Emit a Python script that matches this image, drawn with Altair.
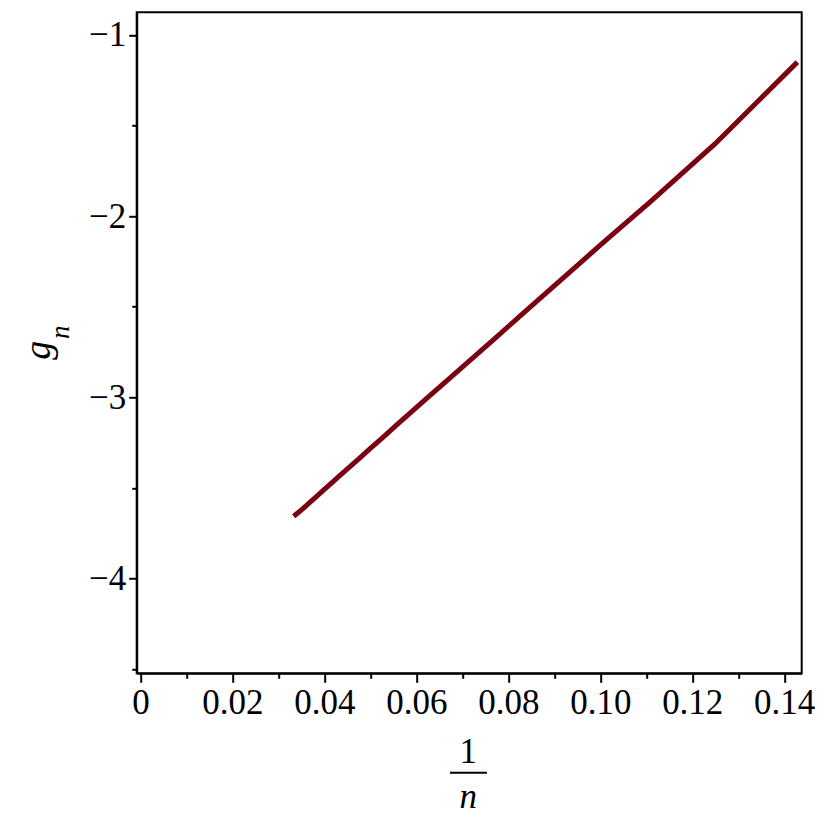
import altair as alt
import pandas as pd

# data: x = 1/n, y = g_n  (n = 7 .. 30)
n_values = list(range(7, 31))
g_values = [-1.15, -1.60, -1.915, -2.16, -2.364, -2.534, -2.678, -2.801,
            -2.907, -3.00, -3.083, -3.156, -3.223, -3.282, -3.336, -3.385,
            -3.429, -3.470, -3.508, -3.543, -3.575, -3.605, -3.633, -3.656]
x_ticks = [0, 0.01, 0.02, 0.03, 0.04, 0.05, 0.06, 0.07, 0.08, 0.09, 0.10,
           0.11, 0.12, 0.13, 0.14]
y_ticks = [-4.5, -4, -3.5, -3, -2.5, -2, -1.5, -1]
x_domain = [-0.0008, 0.1438]
y_domain = [-4.5226, -0.875]

x_title_num = "1"
x_title_den = "n"
y_title_main = "g"
y_title_sub = "n"

df = pd.DataFrame({"inv_n": [1.0 / n for n in n_values], "g": g_values})

W, H = 665, 661
FONT = "Liberation Serif"
FS = 35
LINE_COLOR = "#7a0012"

line = alt.Chart(df).mark_line(color=LINE_COLOR, strokeWidth=5, strokeCap="butt").encode(
    x=alt.X("inv_n:Q",
            scale=alt.Scale(domain=x_domain, nice=False, zero=False),
            axis=alt.Axis(
                values=x_ticks, title=None, grid=False,
                domainColor="black", domainWidth=2,
                tickColor="black", tickWidth=2,
                tickSize=alt.condition("round(datum.value*100) % 2 == 0", alt.value(9), alt.value(5)),
                labelExpr="round(datum.value*100) % 2 == 0 ? (datum.value == 0 ? '0' : format(datum.value, '.2f')) : ''",
                labelFont=FONT, labelFontSize=FS, labelColor="black",
                labelPadding=3, labelFlush=False, labelOverlap=False,
            )),
    y=alt.Y("g:Q",
            scale=alt.Scale(domain=y_domain, nice=False, zero=False),
            axis=alt.Axis(
                values=y_ticks, title=None, grid=False,
                domainColor="black", domainWidth=2,
                tickColor="black", tickWidth=2,
                tickSize=alt.condition("datum.value % 1 == 0", alt.value(8), alt.value(5)),
                labelExpr="datum.value % 1 == 0 ? format(datum.value, 'd') : ''",
                labelFont=FONT, labelFontSize=FS, labelColor="black",
                labelPadding=3, labelFlush=False, labelOverlap=False,
            )),
)

one = alt.Data(values=[{}])

num = alt.Chart(one).mark_text(font=FONT, fontSize=FS, align="center", baseline="alphabetic",
                               color="black").encode(
    x=alt.value(W / 2 - 1), y=alt.value(750.7), text=alt.value(x_title_num))
bar = alt.Chart(one).mark_rule(color="black", strokeWidth=2).encode(
    x=alt.value(313.3), x2=alt.value(350.3), y=alt.value(760.4))
den = alt.Chart(one).mark_text(font=FONT, fontSize=FS, fontStyle="italic", align="center",
                               baseline="alphabetic", color="black").encode(
    x=alt.value(W / 2 - 1), y=alt.value(795.7), text=alt.value(x_title_den))

gmain = alt.Chart(one).mark_text(font=FONT, fontSize=38, fontStyle="italic", align="center",
                                 baseline="alphabetic", angle=270, color="black").encode(
    x=alt.value(-87), y=alt.value(338), text=alt.value(y_title_main))
gsub = alt.Chart(one).mark_text(font=FONT, fontSize=27, fontStyle="italic", align="center",
                                baseline="alphabetic", angle=270, color="black").encode(
    x=alt.value(-68), y=alt.value(320), text=alt.value(y_title_sub))

chart = alt.layer(line, num, bar, den, gmain, gsub).properties(
    width=W, height=H,
    background="white",
    autosize=alt.AutoSizeParams(type="none"),
    padding={"left": 128.7, "top": 4.3, "right": 20, "bottom": 149},
).configure_view(stroke="black", strokeWidth=2)

chart.save("out.html", embed_options={"renderer": "svg", "actions": False})
